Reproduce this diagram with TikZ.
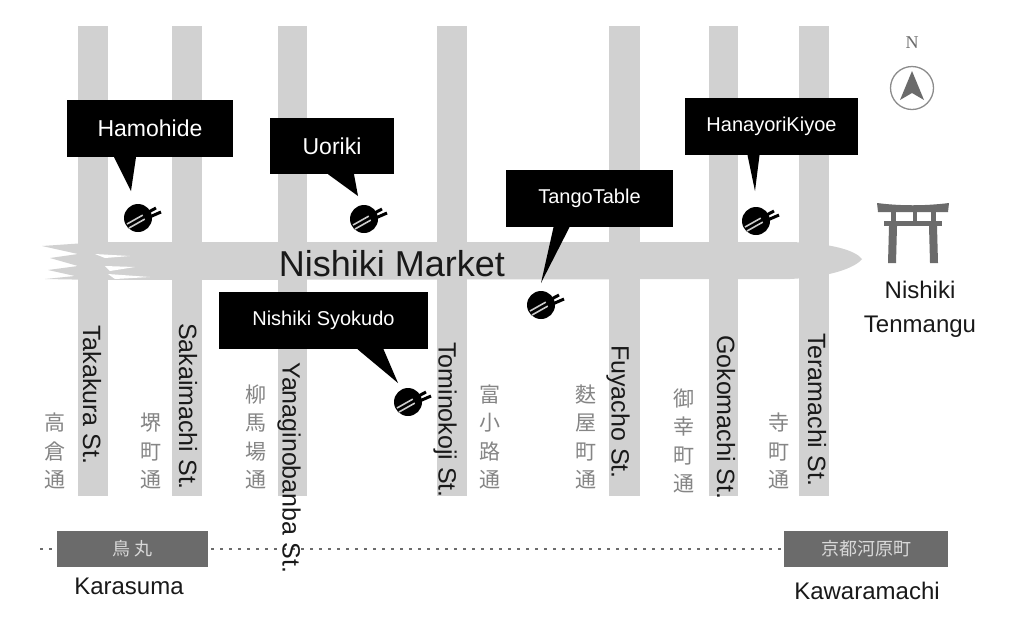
\documentclass[tikz,border=0pt]{standalone}
\usepackage{fontspec}
\setmainfont{Liberation Sans}
\newfontfamily\cjk{Noto Sans CJK JP}
\definecolor{roadgray}{gray}{0.82}
\definecolor{boxgray}{gray}{0.42}
\definecolor{cjkgray}{gray}{0.52}
\tikzset{
  road/.style={fill=roadgray,draw=none},
  callout/.style={fill=black,draw=none,text=white,inner sep=0pt,font=\fontsize{23}{23}\selectfont},
  streetname/.style={rotate=-90,anchor=west,inner sep=0pt,text=black!90,font=\fontsize{25}{25}\selectfont},
  placename/.style={inner sep=0pt,text=black!90,font=\fontsize{24}{24}\selectfont},
  cjklabel/.style={inner sep=0pt,text=cjkgray,align=center,font=\cjk\fontsize{21}{28.5}\selectfont},
  station/.style={fill=boxgray,draw=none,text=white!85!black,inner sep=0pt,font=\cjk\fontsize{18}{18}\selectfont},
  pointer/.style={fill=black,draw=none},
  icon/.pic={
    \fill[black] (0,0) circle (14);
    \draw[white!80!black,line width=1.6] (-11,6) -- (5,-3);
    \draw[white!80!black,line width=1.6] (-9,10) -- (7,1);
    \draw[black,line width=3] (5,-3) -- (18,-10);
    \draw[black,line width=3] (7,1) -- (23,-6);
  }
}
\begin{document}
\begin{tikzpicture}[x=1pt,y=-1pt]
\useasboundingbox (0,0) rectangle (1024,625);
\fill[white] (0,0) rectangle (1024,625);
% streets
\foreach \xa/\xb in {78/108,172/202,278/307,437/467,609/640,709/738,799/829}{
  \fill[road] (\xa,26) rectangle (\xb,496);
}
% market band
\fill[road] (100,242) -- (790,242) .. controls (830,243) and (855,250) .. (862,259)
  .. controls (855,268) and (830,277) .. (790,279) -- (100,280) -- (45,279) -- (75,276) -- (48,270) -- (78,266) -- (50,258) -- (78,254) -- (42,246) -- cycle;
\fill[white] (95,254) -- (130,256) -- (105,258) -- cycle;
\fill[white] (105,266) -- (135,267) -- (110,271) -- cycle;
\fill[white] (108,274) -- (150,277) -- (115,279) -- cycle;
% dotted rail
\coordinate (railL) at (40,549);
\coordinate (railR) at (784,549);
\draw[boxgray,line width=2.2,dash pattern=on 3pt off 6pt] (railL) -- (railR);
% market label
\node[inner sep=0pt,text=black!90,font=\fontsize{36}{36}\selectfont] (market) at (392,264) {Nishiki Market};
% street names
\node[streetname] (s1) at (92,325) {Takakura St.};
\node[streetname] (s2) at (188,323) {Sakaimachi St.};
\node[streetname] (s3) at (289,362) {Yanaginobanba St.};
\node[streetname] (s4) at (445,342) {Tominokoji St.};
\node[streetname] (s5) at (618,345) {Fuyacho St.};
\node[streetname] (s6) at (726,335) {Gokomachi St.};
\node[streetname] (s7) at (817,333) {Teramachi St.};
% kanji
\node[cjklabel] (k1) at (55,451) {高\\倉\\通};
\node[cjklabel] (k2) at (151,451) {堺\\町\\通};
\node[cjklabel] (k3) at (256,437) {柳\\馬\\場\\通};
\node[cjklabel] (k4) at (490,437) {富\\小\\路\\通};
\node[cjklabel] (k5) at (586,437) {麩\\屋\\町\\通};
\node[cjklabel] (k6) at (684,441) {御\\幸\\町\\通};
\node[cjklabel] (k7) at (779,451) {寺\\町\\通};
% stations
\node[station,minimum width=151pt,minimum height=36pt] (kar) at (132.5,549) {鳥 丸};
\node[station,minimum width=164pt,minimum height=36pt] (kaw) at (866,549) {京都河原町};
\node[placename] (karl) at (129,586) {Karasuma};
\node[placename] (kawl) at (867,591) {Kawaramachi};
% icons
\pic at (138,218) {icon};
\coordinate (i1) at (131,191);
\pic at (364,219) {icon};
\coordinate (i2) at (358,196);
\pic at (541,305) {icon};
\coordinate (i3) at (541,283);
\pic at (756,221) {icon};
\coordinate (i4) at (755,191);
\pic at (408,402) {icon};
\coordinate (i5) at (398,383);
% callouts
\node[callout,minimum width=166pt,minimum height=57pt] (c1) at (150,128.5) {Hamohide};
\node[callout,minimum width=124pt,minimum height=56pt] (c2) at (332,146) {Uoriki};
\node[callout,minimum width=167pt,minimum height=57pt,font=\fontsize{20}{20}\selectfont] (c3) at (589.5,198.5) {TangoTable};
\node[callout,minimum width=173pt,minimum height=57pt,font=\fontsize{20}{20}\selectfont] (c4) at (771.5,126.5) {HanayoriKiyoe};
\node[callout,minimum width=209pt,minimum height=57pt,font=\fontsize{20}{20}\selectfont] (c5) at (323.5,320.5) {Nishiki Syokudo};
\fill[pointer] ([xshift=-36pt]c1.south) -- (i1) -- ([xshift=-14pt]c1.south) -- cycle;
\fill[pointer] ([xshift=-4pt]c2.south) -- (i2) -- ([xshift=22pt]c2.south) -- cycle;
\fill[pointer] ([xshift=-36pt]c3.south) -- (i3) -- ([xshift=-20pt]c3.south) -- cycle;
\fill[pointer] ([xshift=-24pt]c4.south) -- (i4) -- ([xshift=-12pt]c4.south) -- cycle;
\fill[pointer] ([xshift=34pt]c5.south) -- (i5) -- ([xshift=60pt]c5.south) -- cycle;
% torii
\node[inner sep=0pt,text=black!90,align=center,font=\fontsize{24}{34}\selectfont] (tenman) at (920,309) {Nishiki\\Tenmangu};
\fill[boxgray] (877,203) .. controls (900,206) and (925,206) .. (949,203) -- (948,212) -- (878,212) -- cycle;
\fill[boxgray] (884,221) rectangle (942,226);
\fill[boxgray] (891,212) rectangle (896,221);
\fill[boxgray] (913,212) rectangle (917,221);
\fill[boxgray] (931,212) rectangle (936,221);
\fill[boxgray] (889,226) -- (897,226) -- (896,263) -- (888,263) -- cycle;
\fill[boxgray] (929,226) -- (937,226) -- (938,263) -- (930,263) -- cycle;
% compass
\node[inner sep=0pt,text=boxgray,font=\fontfamily{lmr}\fontsize{18}{18}\selectfont] (north) at (912,43) {\setmainfont{Liberation Serif}N};
\draw[black!45,line width=1.3] (912,88) circle (21.5);
\fill[boxgray] (912,71) -- (924,100) -- (912,93) -- (900,100) -- cycle;
\end{tikzpicture}
\end{document}
